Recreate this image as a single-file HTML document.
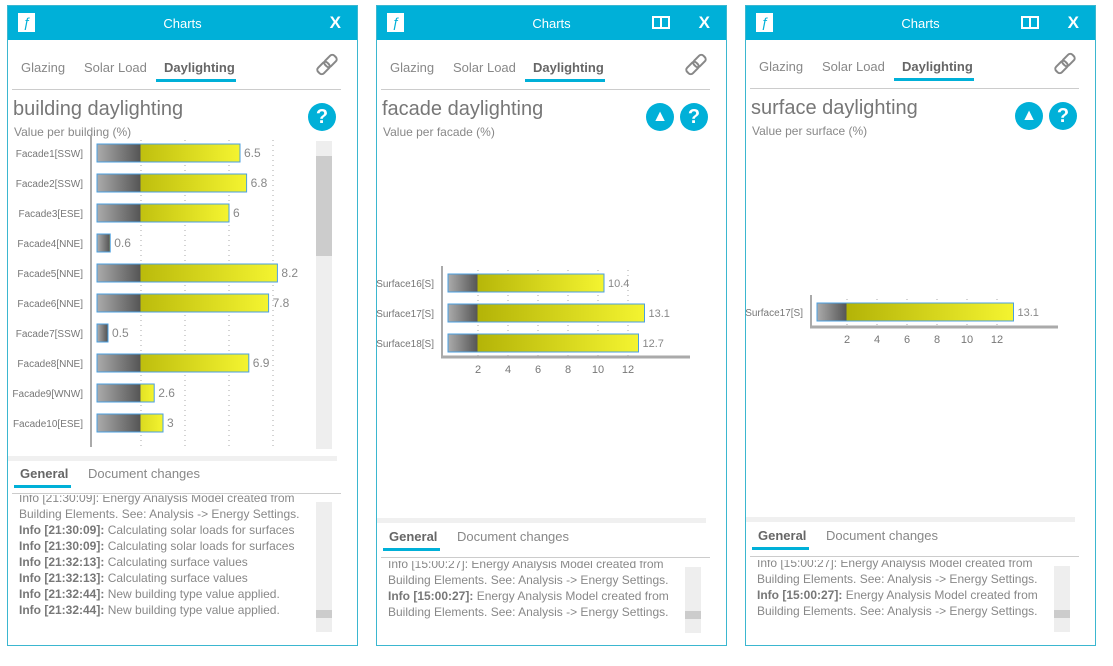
<!DOCTYPE html>
<html><head><meta charset="utf-8">
<style>
body{margin:0;width:1113px;height:666px;background:#fff;position:relative;overflow:hidden;font-family:"Liberation Sans",sans-serif;color:#777}
.abs{position:absolute}
.panel{position:absolute;top:5px;width:349px;height:639px;border:1px solid #3bb7d0;background:#fff}
.hdr{position:absolute;left:0;top:0;width:100%;height:34px;background:#00b0d8}
.hdr .t{position:absolute;left:0;width:100%;top:10px;text-align:center;color:#fff;font-size:13px}
.hdr .x{position:absolute;right:16px;top:7px;color:#fff;font-size:17px;font-weight:bold}
.logo{position:absolute;left:10px;top:7px;width:17px;height:19px;background:#fff;color:#00b0d8;font-size:14px;line-height:19px;font-style:italic;text-align:center}
.tab{position:absolute;top:54px;font-size:13px;color:#888}
.tab.on{color:#666;font-weight:bold}
.uline{position:absolute;height:3px;background:#00b0d8}
.hl{position:absolute;height:1px;background:#ccc}
.h1{position:absolute;font-size:20px;color:#777;font-weight:normal}
.sub{position:absolute;font-size:12px;color:#888}
.circ{position:absolute;width:28px;height:28px;border-radius:50%;background:#00b0d8;color:#fff;font-weight:bold;font-size:20px;text-align:center;line-height:28px}
.log{position:absolute;font-size:12px;color:#888;line-height:16px;white-space:nowrap}
.log b{color:#777}
.sb{position:absolute;width:16px;background:#eee}
.band{position:absolute;height:5px;background:#f0f0f0}
.link{position:absolute;width:22px;height:22px}
.link i{position:absolute;width:11px;height:6px;border:2px solid #888;border-radius:4px;transform:rotate(-45deg)}
</style></head><body>
<svg width="0" height="0" style="position:absolute"><defs>
<linearGradient id="gy" x1="0" x2="1"><stop offset="0" stop-color="#a8a800"/><stop offset="1" stop-color="#f4f430"/></linearGradient>
<linearGradient id="gg" x1="0" x2="1"><stop offset="0" stop-color="#aaa"/><stop offset="1" stop-color="#555"/></linearGradient>
</defs></svg>

<!-- Panel 1 -->
<div class="panel" style="left:7px">
 <div class="hdr"><div class="logo">ƒ</div><div class="t">Charts</div><div class="x">X</div></div>
 <div class="tab" style="left:13px">Glazing</div>
 <div class="tab" style="left:76px">Solar Load</div>
 <div class="tab on" style="left:156px">Daylighting</div>
 <div class="uline" style="left:148px;top:73px;width:80px"></div>
 <div class="hl" style="left:4px;top:83px;width:329px"></div>
 <div class="link" style="left:308px;top:47px"><i style="left:0;top:10px"></i><i style="left:7px;top:3px"></i></div>
 <div class="h1" style="left:5px;top:92px">building daylighting</div>
 <div class="sub" style="left:6px;top:119px">Value per building (%)</div>
 <div class="circ" style="left:300px;top:97px">?</div>
 <div class="sb" style="left:308px;top:135px;height:308px"></div>
 <div class="abs" style="left:308px;top:150px;width:16px;height:100px;background:#ccc"></div>
 <div class="band" style="left:0;top:450px;width:329px"></div>
 <div class="tab on" style="left:12px;top:460px">General</div>
 <div class="tab" style="left:80px;top:460px">Document changes</div>
 <div class="uline" style="left:6px;top:479px;width:57px"></div>
 <div class="hl" style="left:4px;top:487px;width:329px"></div>
 <div class="log" style="left:11px;top:489px;height:138px;overflow:hidden">
  <div style="margin-top:-5px">Info [21:30:09]: Energy Analysis Model created from</div>
  <div>Building Elements. See: Analysis -&gt; Energy Settings.</div>
  <div><b>Info [21:30:09]:</b> Calculating solar loads for surfaces</div>
  <div><b>Info [21:30:09]:</b> Calculating solar loads for surfaces</div>
  <div><b>Info [21:32:13]:</b> Calculating surface values</div>
  <div><b>Info [21:32:13]:</b> Calculating surface values</div>
  <div><b>Info [21:32:44]:</b> New building type value applied.</div>
  <div><b>Info [21:32:44]:</b> New building type value applied.</div>
 </div>
 <div class="sb" style="left:308px;top:496px;height:130px"></div>
 <div class="abs" style="left:308px;top:604px;width:16px;height:8px;background:#ccc"></div>
</div>

<!-- Panel 2 -->
<div class="panel" style="left:376px">
 <div class="hdr"><div class="logo">ƒ</div><div class="t">Charts</div><div class="abs" style="right:56px;top:10px;width:18px;height:13px;border:2px solid #fff;box-sizing:border-box"><div class="abs" style="left:6px;top:0;width:2px;height:10px;background:#fff"></div></div><div class="x">X</div></div>
 <div class="tab" style="left:13px">Glazing</div>
 <div class="tab" style="left:76px">Solar Load</div>
 <div class="tab on" style="left:156px">Daylighting</div>
 <div class="uline" style="left:148px;top:73px;width:80px"></div>
 <div class="hl" style="left:4px;top:83px;width:329px"></div>
 <div class="link" style="left:308px;top:47px"><i style="left:0;top:10px"></i><i style="left:7px;top:3px"></i></div>
 <div class="h1" style="left:5px;top:92px">facade daylighting</div>
 <div class="sub" style="left:6px;top:119px">Value per facade (%)</div>
 <div class="circ" style="left:269px;top:97px;font-size:16px">▲</div>
 <div class="circ" style="left:303px;top:97px">?</div>
 <div class="band" style="left:0;top:512px;width:329px"></div>
 <div class="tab on" style="left:12px;top:523px">General</div>
 <div class="tab" style="left:80px;top:523px">Document changes</div>
 <div class="uline" style="left:6px;top:542px;width:57px"></div>
 <div class="hl" style="left:4px;top:551px;width:329px"></div>
 <div class="log" style="left:11px;top:555px;height:68px;overflow:hidden">
  <div style="margin-top:-5px">Info [15:00:27]: Energy Analysis Model created from</div>
  <div>Building Elements. See: Analysis -&gt; Energy Settings.</div>
  <div><b>Info [15:00:27]:</b> Energy Analysis Model created from</div>
  <div>Building Elements. See: Analysis -&gt; Energy Settings.</div>
 </div>
 <div class="sb" style="left:308px;top:561px;height:66px"></div>
 <div class="abs" style="left:308px;top:605px;width:16px;height:8px;background:#ccc"></div>
</div>

<!-- Panel 3 -->
<div class="panel" style="left:745px">
 <div class="hdr"><div class="logo">ƒ</div><div class="t">Charts</div><div class="abs" style="right:56px;top:10px;width:18px;height:13px;border:2px solid #fff;box-sizing:border-box"><div class="abs" style="left:6px;top:0;width:2px;height:10px;background:#fff"></div></div><div class="x">X</div></div>
 <div class="tab" style="left:13px;top:53px">Glazing</div>
 <div class="tab" style="left:76px;top:53px">Solar Load</div>
 <div class="tab on" style="left:156px;top:53px">Daylighting</div>
 <div class="uline" style="left:148px;top:72px;width:80px"></div>
 <div class="hl" style="left:4px;top:82px;width:329px"></div>
 <div class="link" style="left:308px;top:46px"><i style="left:0;top:10px"></i><i style="left:7px;top:3px"></i></div>
 <div class="h1" style="left:5px;top:91px">surface daylighting</div>
 <div class="sub" style="left:6px;top:118px">Value per surface (%)</div>
 <div class="circ" style="left:269px;top:96px;font-size:16px">▲</div>
 <div class="circ" style="left:303px;top:96px">?</div>
 <div class="band" style="left:0;top:511px;width:329px"></div>
 <div class="tab on" style="left:12px;top:522px">General</div>
 <div class="tab" style="left:80px;top:522px">Document changes</div>
 <div class="uline" style="left:6px;top:541px;width:57px"></div>
 <div class="hl" style="left:4px;top:550px;width:329px"></div>
 <div class="log" style="left:11px;top:554px;height:68px;overflow:hidden">
  <div style="margin-top:-5px">Info [15:00:27]: Energy Analysis Model created from</div>
  <div>Building Elements. See: Analysis -&gt; Energy Settings.</div>
  <div><b>Info [15:00:27]:</b> Energy Analysis Model created from</div>
  <div>Building Elements. See: Analysis -&gt; Energy Settings.</div>
 </div>
 <div class="sb" style="left:308px;top:560px;height:66px"></div>
 <div class="abs" style="left:308px;top:604px;width:16px;height:8px;background:#ccc"></div>
</div>

<svg id="charts" class="abs" style="left:0;top:0" width="1113" height="666"></svg>
<script>
const cats1=["Facade1[SSW]","Facade2[SSW]","Facade3[ESE]","Facade4[NNE]","Facade5[NNE]","Facade6[NNE]","Facade7[SSW]","Facade8[NNE]","Facade9[WNW]","Facade10[ESE]"];
const vals1=[6.5,6.8,6,0.6,8.2,7.8,0.5,6.9,2.6,3];
const labels1=["6.5","6.8","6","0.6","8.2","7.8","0.5","6.9","2.6","3"];
const cats2=["Surface16[S]","Surface17[S]","Surface18[S]"];
const vals2=[10.4,13.1,12.7];
const labels2=["10.4","13.1","12.7"];
const cats3=["Surface17[S]"];
const vals3=[13.1];
const labels3=["13.1"];
const ticks=[2,4,6,8,10,12];
const tickLabels=["2","4","6","8","10","12"];

const svg=document.getElementById('charts');
const NS='http://www.w3.org/2000/svg';
function mk(t,a){const e=document.createElementNS(NS,t);for(const k in a)e.setAttribute(k,a[k]);svg.appendChild(e);return e;}

function chart(o,cats,vals,labels){
  const x=v=>o.x0+v*o.ppu;
  const y=i=>o.y0+i*o.step;
  const top=o.y0-o.step/2+2, bot=o.y0+(cats.length-1)*o.step+o.step/2;
  const axBot=o.axBot||bot;
  ticks.forEach(t=>{if(o.maxX&&x(t)>o.maxX)return;const g=mk('line',{x1:x(t),x2:x(t),y1:top,y2:axBot,stroke:'#aaa','stroke-dasharray':'1,4'});
    
    });
  cats.forEach((c,i)=>{
    const cy=y(i),h=18,w=Math.max(0,x(vals[i])-x(0)),g2=Math.min(w,x(2)-x(0));
    const t=mk('text',{x:o.x0-14,y:cy+4,'text-anchor':'end','font-size':10,fill:'#777','font-family':'Liberation Sans, sans-serif'});t.textContent=c;
    
    
    const yb=mk('rect',{x:x(0),y:cy-h/2,width:w,height:h,fill:'url(#gy)',stroke:'#4a9fe0','stroke-width':1});
    
    
    const gb=mk('rect',{x:x(0)+0.5,y:cy-h/2+0.5,width:Math.max(0,g2-1),height:h-1,fill:'url(#gg)'});
    
    
    const v=mk('text',{x:x(vals[i])+4,y:cy+4,'font-size':o.vf,fill:'#888','font-family':'Liberation Sans, sans-serif'});v.textContent=labels[i];
    
    
  });
  const ya=mk('line',{x1:o.x0-6,x2:o.x0-6,y1:top-4,y2:axBot,stroke:'#aaa','stroke-width':2});
  
  
  if(o.xaxis){
    const xa=mk('line',{x1:o.x0-7,x2:o.x0+o.axLen,y1:axBot,y2:axBot,stroke:'#aaa','stroke-width':3});
    
    
    ticks.forEach((t,i)=>{const l=mk('text',{x:x(t),y:axBot+16,'text-anchor':'middle','font-size':11,fill:'#777','font-family':'Liberation Sans, sans-serif'});l.textContent=tickLabels[i];
      
      });
  }
}
chart({x0:97,ppu:22,y0:153,step:30,vf:12,axBot:447,maxX:310},cats1,vals1,labels1);
chart({x0:448,ppu:15,y0:283,step:30,vf:11,xaxis:true,axLen:242,axBot:357},cats2,vals2,labels2);
chart({x0:817,ppu:15,y0:312,step:30,vf:11,xaxis:true,axLen:241,axBot:327},cats3,vals3,labels3);
</script>
</body></html>
